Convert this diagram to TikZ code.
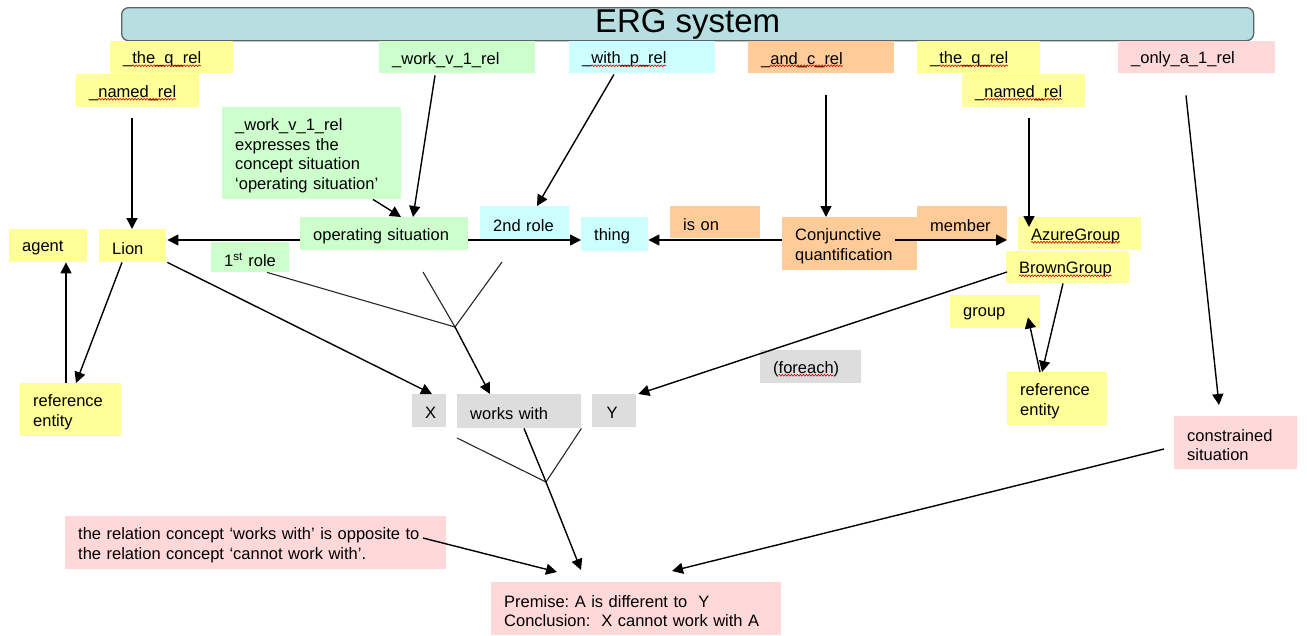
\documentclass[tikz,border=0pt]{standalone}
\usepackage{fontspec}
\setmainfont{Liberation Sans}
\usetikzlibrary{arrows.meta,calc,decorations.pathmorphing}

\definecolor{cYel}{HTML}{FFFF99}
\definecolor{cGrn}{HTML}{CCFFCC}
\definecolor{cCyn}{HTML}{CCFFFF}
\definecolor{cOrg}{HTML}{FFCC99}
\definecolor{cPnk}{HTML}{FFD9D9}
\definecolor{cGry}{HTML}{DDDDDD}
\definecolor{cBar}{HTML}{B7DEE0}
\definecolor{cBarLine}{HTML}{5A6466}

\newcommand\fnt{\fontsize{16.5}{19.5}\selectfont\frenchspacing}

% word widths for the spelling underlines (measured before the picture)
\newcommand\measure[2]{\newlength#1\settowidth#1{\fnt #2}}

% box: name, left, top, width, height, fill, text (lines separated by \\)
\newcommand\bx[7]{%
  \node[boxshape, fill=#6, minimum width=#4pt, minimum height=#5pt] (#1) at (#2,#3) {};
  \pgfmathsetmacro\tw{#4-26}%
  \node[boxtext, text width=\tw pt] (#1-t) at ([yshift=-2.5pt]#1.west) {#7};}
% red spelling underline: box, width before the word, width of the word
\newcommand\wavy[3]{%
  \draw[squig] ($(#1.west)+(13pt+#2,-8.5pt)$) -- ++(#3,0pt);}

\tikzset{
  boxshape/.style={draw=none, inner sep=0pt, anchor=north west},
  boxtext/.style={inner xsep=13pt, inner ysep=0pt, font=\fnt, align=left, anchor=west},
  arr/.style={draw=black, line width=1.4pt, -{Triangle[length=11pt,width=11pt]}},
  fork/.style={draw=black!85, line width=1.1pt},
  squig/.style={draw=red!80!black, line width=0.6pt, decorate,
    decoration={snake, amplitude=0.9pt, segment length=3pt}},
}

\begin{document}
\measure\lU{\_}
\measure\lParen{(}
\measure\lTheq{the\_q\_rel}
\measure\lNamed{named\_rel}
\measure\lWith{with\_p\_rel}
\measure\lAnd{and\_c\_rel}
\measure\lAzure{AzureGroup}
\measure\lBrown{BrownGroup}
\measure\lForeach{foreach}%
\begin{tikzpicture}[x=1pt, y=-1pt]
\useasboundingbox (0,0) rectangle (1307,635);

% title bar
\node[anchor=north west, minimum width=1132pt, minimum height=33pt, inner sep=0pt,
      rounded corners=7pt, fill=cBar, draw=cBarLine, line width=1.3pt,
      font=\fontsize{33}{36}\selectfont] (title) at (121,7) {ERG system};

% relation labels along the top
\bx{theqL}{110}{41}{123}{32}{cYel}{\_the\_q\_rel}
\bx{namedL}{76}{74}{123}{33}{cYel}{\_named\_rel}
\bx{workT}{379}{41}{156}{32}{cGrn}{\_work\_v\_1\_rel}
\bx{withp}{569}{41}{146}{32}{cCyn}{\_with\_p\_rel}
\bx{andc}{748}{41}{146}{32}{cOrg}{\_and\_c\_rel}
\bx{theqR}{917}{41}{123}{32}{cYel}{\_the\_q\_rel}
\bx{namedR}{962}{74}{123}{33}{cYel}{\_named\_rel}
\bx{onlya}{1118}{41}{157}{32}{cPnk}{\_only\_a\_1\_rel}

\bx{desc}{222}{107}{179}{92}{cGrn}{\_work\_v\_1\_rel\\expresses the\\concept situation\\‘operating situation’}

% concept row
\bx{agent}{9}{229}{78}{33}{cYel}{agent}
\bx{lion}{99}{229}{67}{33}{cYel}{Lion}
\bx{role1}{211}{242}{78}{30}{cGrn}{\mbox{1\textsuperscript{st} role}}
\bx{opsit}{300}{217}{168}{33}{cGrn}{\mbox{operating situation}}
\bx{role2}{480}{206}{89}{33}{cCyn}{\mbox{2nd role}}
\bx{thing}{581}{217}{67}{34}{cCyn}{thing}
\bx{ison}{670}{206}{90}{32}{cOrg}{is on}
\bx{conj}{782}{217}{135}{53}{cOrg}{Conjunctive\\quantification}
\bx{member}{917}{206}{90}{34}{cOrg}{member}
\bx{azure}{1018}{217}{123}{33}{cYel}{AzureGroup}
\bx{brown}{1006}{251}{123}{32}{cYel}{BrownGroup}

\bx{group}{950}{295}{90}{33}{cYel}{group}
\bx{refL}{20}{383}{101}{53}{cYel}{reference\\entity}
\bx{refR}{1007}{372}{100}{53}{cYel}{reference\\entity}
\bx{foreach}{760}{350}{101}{33}{cGry}{(foreach)}

% relation X works with Y
\bx{X}{412}{394}{34}{33}{cGry}{\mbox{X}}
\bx{works}{457}{394}{124}{34}{cGry}{\mbox{works with}}
\bx{Y}{592}{394}{44}{33}{cGry}{\mbox{\hspace{1.5pt}Y}}

\bx{constr}{1174}{416}{123}{53}{cPnk}{constrained\\situation}
\bx{rel}{65}{516}{381}{53}{cPnk}{the relation concept ‘works with’ is opposite to\\the relation concept ‘cannot work with’.}
\bx{prem}{491}{582}{290}{53}{cPnk}{Premise: A is different to\ \ Y\\Conclusion:\ \ X cannot work with A}

% spelling underlines
\wavy{theqL}{\lU}{\lTheq}
\wavy{theqR}{\lU}{\lTheq}
\wavy{namedL}{\lU}{\lNamed}
\wavy{namedR}{\lU}{\lNamed}
\wavy{withp}{\lU}{\lWith}
\wavy{andc}{\lU}{\lAnd}
\wavy{azure}{0pt}{\lAzure}
\wavy{brown}{0pt}{\lBrown}
\wavy{foreach}{\lParen}{\lForeach}

% junction points of the two forks and free line ends
\coordinate (J1) at (455,327);
\coordinate (fa) at (423,272);
\coordinate (fb) at (502,262);
\coordinate (J2) at (546,482);
\coordinate (fc) at (457,438);

% arrows from the relations
\draw[arr] ($(namedL.south west)+(56,11)$) -- ($(lion.north west)+(33,0)$);
\draw[arr] ($(workT.south west)+(56,2)$) -- ($(opsit.north west)+(113,0)$);
\draw[arr] ($(desc.south west)+(151,0)$) -- ($(opsit.north west)+(101,0)$);
\draw[arr] ($(withp.south west)+(45,1)$) -- ($(role2.north west)+(57,0)$);
\draw[arr] ($(andc.south west)+(78,22)$) -- ($(conj.north west)+(44,0)$);
\draw[arr] ($(namedR.south west)+(67,11)$) -- ($(azure.north west)+(11,10)$);
\draw[arr] ($(onlya.south west)+(68,22)$) -- ($(constr.north west)+(45,-11)$);

% role arrows
\draw[arr] ($(opsit.north west)+(0,23)$) -- ($(lion.north east)+(1,11)$);
\draw[arr] ($(opsit.north east)+(0,23)$) -- ($(thing.north west)+(0,23)$);
\draw[arr] ($(conj.north west)+(0,23)$) -- ($(thing.north east)+(0,23)$);
\draw[arr] ($(conj.north west)+(113,23)$) -- ($(azure.north west)+(-11,23)$);

% reference entities
\draw[arr] ($(lion.south west)+(23,0)$) -- ($(refL.north west)+(56,0)$);
\draw[arr] ($(refL.north west)+(46,0)$) -- ($(agent.south west)+(57,0)$);
\draw[arr] ($(brown.south west)+(57,0)$) -- ($(refR.north west)+(35,0)$);
\draw[arr] ($(refR.north west)+(33,0)$) -- ($(group.south west)+(78,-11)$);

% arguments of works with
\draw[arr] ($(lion.south east)+(1,0)$) -- ($(X.north west)+(20,0)$);
\draw[arr] ($(brown.north west)+(1,21)$) -- ($(Y.north east)+(2,0)$);
\draw[fork] ($(role1.south west)+(56,0)$) -- (J1);
\draw[fork] (fa) -- (J1) -- (fb);
\draw[arr] (J1) -- ($(works.north west)+(33,0)$);

% inference
\draw[fork] (fc) -- (J2) -- (works.south east);
\draw[arr] ($(works.south west)+(67,0)$) -- (J2) -- ($(prem.north west)+(90,-12)$);
\draw[arr] ($(rel.north west)+(358,22)$) -- ($(prem.north west)+(66,-10)$);
\draw[arr] ($(constr.north west)+(-10,33)$) -- ($(prem.north west)+(181,-11)$);
\end{tikzpicture}
\end{document}
